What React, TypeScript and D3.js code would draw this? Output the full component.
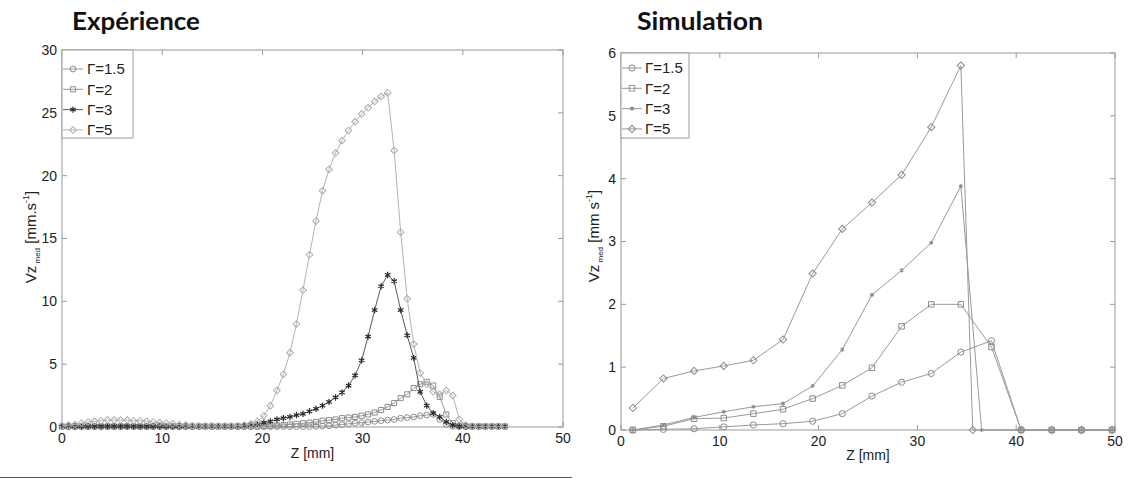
import React from 'react';
import * as d3 from 'd3';

// ---------- DATA ----------
const GAMMA_LABELS = ['Γ=1.5', 'Γ=2', 'Γ=3', 'Γ=5'];
const X_TICKS = [0, 10, 20, 30, 40, 50];
const EXP_Y_TICKS = [0, 5, 10, 15, 20, 25, 30];
const SIM_Y_TICKS = [0, 1, 2, 3, 4, 5, 6];

// Expérience: measured profiles (Z in mm)
const Z_EXP = [
  0, 0.65, 1.3, 1.95, 2.6, 3.25, 3.9, 4.55, 5.2, 5.85,
  6.5, 7.15, 7.8, 8.45, 9.1, 9.75, 10.4, 11.05, 11.7, 12.35,
  13, 13.65, 14.3, 14.95, 15.6, 16.25, 16.9, 17.55, 18.2, 18.85,
  19.5, 20.15, 20.8, 21.45, 22.1, 22.75, 23.4, 24.05, 24.7, 25.35,
  26, 26.65, 27.3, 27.95, 28.6, 29.25, 29.9, 30.55, 31.2, 31.85,
  32.5, 33.15, 33.8, 34.45, 35.1, 35.75, 36.4, 37.05, 37.7, 38.35,
  39, 39.65, 40.3, 40.95, 41.6, 42.25, 42.9, 43.55, 44.2,
];
const EXP_G15 = [
  0.03, 0.03, 0.03, 0.03, 0.03, 0.03, 0.03, 0.03, 0.03, 0.03,
  0.03, 0.03, 0.03, 0.03, 0.03, 0.03, 0.03, 0.03, 0.03, 0.03,
  0.03, 0.03, 0.03, 0.03, 0.03, 0.03, 0.03, 0.03, 0.03, 0.03,
  0.03, 0.03, 0.03, 0.03, 0.03, 0.03, 0.03, 0.03, 0.03, 0.05,
  0.08, 0.1, 0.15, 0.2, 0.25, 0.3, 0.35, 0.4, 0.45, 0.5,
  0.55, 0.6, 0.7, 0.75, 0.8, 0.9, 0.95, 1.0, 0.6, 0.2,
  0.05, 0.03, 0.03, 0.03, 0.03, 0.03, 0.03, 0.03, 0.03,
];
const EXP_G2 = [
  0.05, 0.05, 0.05, 0.05, 0.05, 0.05, 0.05, 0.05, 0.05, 0.05,
  0.05, 0.05, 0.05, 0.05, 0.05, 0.05, 0.05, 0.05, 0.05, 0.05,
  0.05, 0.05, 0.05, 0.05, 0.05, 0.05, 0.05, 0.05, 0.05, 0.05,
  0.05, 0.08, 0.1, 0.12, 0.15, 0.2, 0.25, 0.3, 0.35, 0.4,
  0.5, 0.55, 0.6, 0.7, 0.75, 0.8, 0.9, 1.0, 1.15, 1.35,
  1.6, 1.9, 2.3, 2.6, 3.1, 3.4, 3.6, 3.3, 2.4, 1.0,
  0.3, 0.1, 0.05, 0.05, 0.05, 0.05, 0.05, 0.05, 0.05,
];
const EXP_G3 = [
  0.05, 0.05, 0.05, 0.05, 0.05, 0.05, 0.05, 0.05, 0.05, 0.05,
  0.05, 0.05, 0.05, 0.05, 0.05, 0.05, 0.05, 0.05, 0.05, 0.05,
  0.05, 0.05, 0.05, 0.05, 0.05, 0.05, 0.05, 0.05, 0.1, 0.15,
  0.25, 0.35, 0.45, 0.6, 0.7, 0.8, 0.95, 1.05, 1.25, 1.45,
  1.7, 2.0, 2.35, 2.75, 3.3, 4.1, 5.3, 7.2, 9.3, 11.2,
  12.1, 11.6, 9.3, 7.3, 5.5, 2.8, 1.7, 1.1, 0.8, 0.4,
  0.15, 0.05, 0.05, 0.05, 0.05, 0.05, 0.05, 0.05, 0.05,
];
const EXP_G5 = [
  0.1, 0.15, 0.2, 0.3, 0.4, 0.45, 0.5, 0.55, 0.55, 0.55,
  0.55, 0.5, 0.5, 0.45, 0.4, 0.35, 0.3, 0.25, 0.2, 0.15,
  0.1, 0.08, 0.08, 0.08, 0.08, 0.08, 0.08, 0.1, 0.15, 0.25,
  0.45, 0.9, 1.7, 2.9, 4.2, 5.9, 8.2, 10.9, 13.7, 16.4,
  18.8, 20.5, 21.8, 22.8, 23.6, 24.3, 24.9, 25.4, 25.9, 26.3,
  26.6, 22.0, 15.5, 10.2, 6.6, 4.3, 3.4, 2.8, 2.6, 2.9,
  2.5, 0.6, 0.15, 0.05, 0.05, 0.05, 0.05, 0.05, 0.05,
];

// Simulation
const X_SIM = [1.2, 4.3, 7.4, 10.4, 13.4, 16.4, 19.4, 22.4, 25.4, 28.4, 31.4, 34.4, 37.5, 40.5, 43.6, 46.6, 49.7];
const X_SIM_G3 = [1.2, 4.3, 7.4, 10.4, 13.4, 16.4, 19.4, 22.4, 25.4, 28.4, 31.4, 34.4, 36.5, 40.5, 43.6, 46.6, 49.7];
const X_SIM_G5 = [1.2, 4.3, 7.4, 10.4, 13.4, 16.4, 19.4, 22.4, 25.4, 28.4, 31.4, 34.4, 35.6, 40.5, 43.6, 46.6, 49.7];
const SIM_G15 = [0.0, 0.01, 0.02, 0.05, 0.08, 0.1, 0.14, 0.26, 0.54, 0.76, 0.9, 1.24, 1.42, 0, 0, 0, 0];
const SIM_G2 = [0.0, 0.06, 0.18, 0.19, 0.26, 0.33, 0.5, 0.71, 0.99, 1.65, 2.0, 2.0, 1.32, 0, 0, 0, 0];
const SIM_G3 = [0.0, 0.08, 0.2, 0.29, 0.37, 0.42, 0.7, 1.28, 2.15, 2.54, 2.98, 3.88, 0, 0, 0, 0, 0];
const SIM_G5 = [0.35, 0.82, 0.94, 1.02, 1.11, 1.44, 2.49, 3.2, 3.62, 4.06, 4.82, 5.8, 0, 0, 0, 0, 0];

// ---------- DRAWING ----------
const FONT = '"Liberation Sans", Arial, sans-serif';
const AXIS = '#9a9a9a';

type Series = {
  label: string; x: number[]; y: number[];
  marker: string; size: number; line: string; mstroke: string;
};

function markerPath(kind: string, size: number): string {
  let t: any = d3.symbolCircle;
  if (kind === 'square' || kind === 'diamond') t = d3.symbolSquare;
  if (kind === 'star') t = (d3 as any).symbolAsterisk || d3.symbolCross;
  return d3.symbol().type(t).size(size)() as string;
}

function Marker({ kind, size, x, y, stroke }: { kind: string; size: number; x: number; y: number; stroke: string }) {
  const rot = kind === 'diamond' ? ' rotate(45)' : '';
  return (
    <path d={markerPath(kind, size)} transform={`translate(${x},${y})${rot}`}
      fill="none" stroke={stroke} strokeWidth={kind === 'star' ? 1.2 : 1} />
  );
}

type PanelCfg = {
  left: number; right: number; top: number; bottom: number; yMax: number; yTicks: number[];
  title: string; titleX: number; titleLen: number; unit: string;
  legW: number; legH: number; legLine0: number; legText: number; legY0: number;
  ylabX: number; ylabY: number; xlabY: number;
};

function Panel({ p, series }: { p: PanelCfg; series: Series[] }) {
  const x = d3.scaleLinear().domain([0, 50]).range([p.left, p.right]);
  const y = d3.scaleLinear().domain([0, p.yMax]).range([p.bottom, p.top]);
  const mk = (s: Series) =>
    d3.line<number>().x((_, i) => x(s.x[i])).y((v) => y(v))(s.y) as string;
  const tl = 5;
  return (
    <g>
      <text x={p.titleX} y={30} fontFamily='Lato, "Open Sans", sans-serif' fontWeight={700}
        fontSize={24} fill="#111" textLength={p.titleLen} lengthAdjust="spacingAndGlyphs">{p.title}</text>
      <rect x={p.left} y={p.top} width={p.right - p.left} height={p.bottom - p.top} fill="white" stroke={AXIS} />
      {X_TICKS.map((t) => (
        <g key={'xt' + t}>
          <line x1={x(t)} x2={x(t)} y1={p.bottom} y2={p.bottom - tl} stroke={AXIS} />
          <line x1={x(t)} x2={x(t)} y1={p.top} y2={p.top + tl} stroke={AXIS} />
          <text x={x(t)} y={p.bottom + 16} textAnchor="middle" fontFamily={FONT} fontSize={14} fill="#222">{t}</text>
        </g>
      ))}
      {p.yTicks.map((t) => (
        <g key={'yt' + t}>
          <line x1={p.left} x2={p.left + tl} y1={y(t)} y2={y(t)} stroke={AXIS} />
          <line x1={p.right} x2={p.right - tl} y1={y(t)} y2={y(t)} stroke={AXIS} />
          <text x={p.left - 5} y={y(t)} dy="0.35em" textAnchor="end" fontFamily={FONT} fontSize={14} fill="#222">{t}</text>
        </g>
      ))}
      {series.map((s) => (
        <g key={s.label}>
          <path d={mk(s)} fill="none" stroke={s.line} strokeWidth={1} />
          {s.y.map((v, i) => (
            <Marker key={i} kind={s.marker} size={s.size} x={x(s.x[i])} y={y(v)} stroke={s.mstroke} />
          ))}
        </g>
      ))}
      {/* legend */}
      <rect x={p.left} y={p.top} width={p.legW} height={p.legH} fill="white" stroke={AXIS} />
      {series.map((s, i) => {
        const cy = p.top + p.legY0 + i * 20.3;
        return (
          <g key={'lg' + s.label}>
            <line x1={p.legLine0} x2={p.legLine0 + 20} y1={cy} y2={cy} stroke={s.line} />
            <Marker kind={s.marker} size={s.size} x={p.legLine0 + 10} y={cy} stroke={s.mstroke} />
            <text x={p.legText} y={cy} dy="0.35em" fontFamily={FONT} fontSize={15} fill="#222">{s.label}</text>
          </g>
        );
      })}
      {/* axis labels */}
      <text x={(p.left + p.right) / 2} y={p.xlabY} textAnchor="middle" fontFamily={FONT} fontSize={14} fill="#222">Z [mm]</text>
      <text transform={`translate(${p.ylabX},${p.ylabY}) rotate(-90)`} textAnchor="middle" fontFamily={FONT} fontSize={15} fill="#222">
        <tspan>Vz</tspan>
        <tspan fontSize={8} dy={4}> med</tspan>
        <tspan dy={-4}> [{p.unit}</tspan>
        <tspan fontSize={9} dy={-7}>-1</tspan>
        <tspan dy={7}>]</tspan>
      </text>
    </g>
  );
}

const GRAY = '#999999';

export default function App() {
  const expSeries: Series[] = [
    { label: GAMMA_LABELS[0], x: Z_EXP, y: EXP_G15, marker: 'circle', size: 26, line: GRAY, mstroke: '#8c8c8c' },
    { label: GAMMA_LABELS[1], x: Z_EXP, y: EXP_G2, marker: 'square', size: 26, line: GRAY, mstroke: '#8c8c8c' },
    { label: GAMMA_LABELS[2], x: Z_EXP, y: EXP_G3, marker: 'star', size: 28, line: '#5a5a5a', mstroke: '#2a2a2a' },
    { label: GAMMA_LABELS[3], x: Z_EXP, y: EXP_G5, marker: 'diamond', size: 22, line: '#b4b4b4', mstroke: '#adadad' },
  ];
  const simSeries: Series[] = [
    { label: GAMMA_LABELS[0], x: X_SIM, y: SIM_G15, marker: 'circle', size: 30, line: GRAY, mstroke: '#8c8c8c' },
    { label: GAMMA_LABELS[1], x: X_SIM, y: SIM_G2, marker: 'square', size: 30, line: GRAY, mstroke: '#8c8c8c' },
    { label: GAMMA_LABELS[2], x: X_SIM_G3, y: SIM_G3, marker: 'star', size: 12, line: GRAY, mstroke: '#8c8c8c' },
    { label: GAMMA_LABELS[3], x: X_SIM_G5, y: SIM_G5, marker: 'diamond', size: 26, line: GRAY, mstroke: '#8c8c8c' },
  ];
  const expCfg: PanelCfg = {
    left: 62, right: 563, top: 50, bottom: 427, yMax: 30, yTicks: EXP_Y_TICKS,
    title: 'Expérience', titleX: 72, titleLen: 128, unit: 'mm.s',
    legW: 71, legH: 88, legLine0: 63, legText: 87, legY0: 19,
    ylabX: 36, ylabY: 237, xlabY: 458,
  };
  const simCfg: PanelCfg = {
    left: 621, right: 1115, top: 53, bottom: 430, yMax: 6, yTicks: SIM_Y_TICKS,
    title: 'Simulation', titleX: 637, titleLen: 126, unit: 'mm s',
    legW: 68, legH: 85, legLine0: 622, legText: 645, legY0: 15,
    ylabX: 599, ylabY: 236, xlabY: 460,
  };
  return (
    <div style={{ position: 'absolute', left: 0, top: 0 }}>
      <svg width={1133} height={479} style={{ display: 'block', background: 'white' }}>
        <rect x={0} y={0} width={1133} height={479} fill="white" />
        <Panel p={expCfg} series={expSeries} />
        <Panel p={simCfg} series={simSeries} />
        <line x1={0} x2={572} y1={477.5} y2={477.5} stroke="#555" strokeWidth={1} />
      </svg>
    </div>
  );
}
